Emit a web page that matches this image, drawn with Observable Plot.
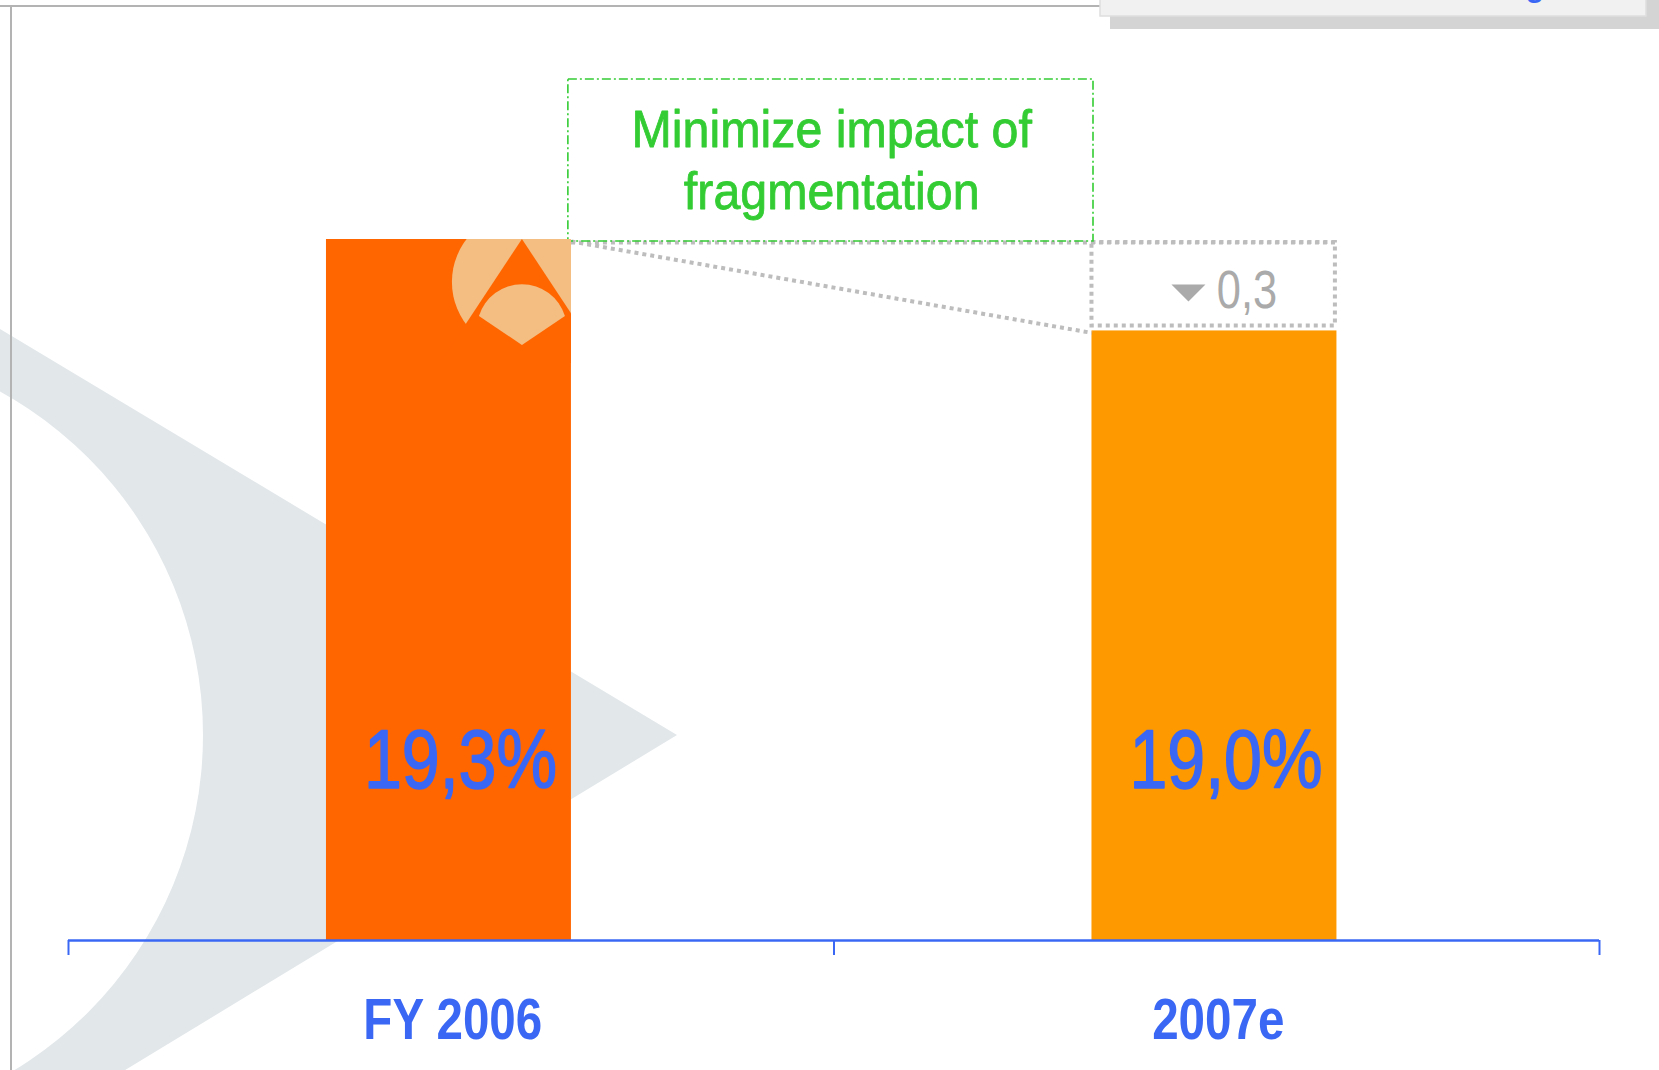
<!DOCTYPE html>
<html>
<head>
<meta charset="utf-8">
<script src="https://cdn.jsdelivr.net/npm/d3@7"></script>
<script src="https://cdn.jsdelivr.net/npm/@observablehq/plot@0.6"></script>
<style>
  html, body { margin: 0; padding: 0; background: #ffffff; overflow: hidden; }
  #chart { position: relative; width: 1659px; height: 1070px; }
</style>
</head>
<body>
<div id="chart"></div>
<script>
// ---- data ----
const categories = ["FY 2006", "2007e"];
const shares = [19.3, 19.0];
const valueLabels = ["19,3%", "19,0%"];
const barColors = ["#ff6600", "#ff9900"];
const noteLines = ["Minimize impact of", "fragmentation"];
const changeLabel = "0,3";
const axisBase = 17;          // value axis starts here (bars are truncated)
const noteTop = 19.825;       // top of the green note box, in value units

const FONT = "'Liberation Sans', Arial, sans-serif";
const BLUE = "#3a68f4";
const GREEN = "#33cc33";
const GREY = "#bdbdbd";

const data = categories.map((c, i) => ({cat: c, i, value: shares[i], label: valueLabels[i], color: barColors[i]}));

const barL = 0.337, barR = 0.657;   // bar extent inside each category slot

const downTriangle = {
  draw(ctx, size) {
    const r = Math.sqrt(size / Math.PI);
    ctx.moveTo(-r, -r / 2);
    ctx.lineTo(r, -r / 2);
    ctx.lineTo(0, r / 2);
    ctx.closePath();
  }
};

const W = 1659, H = 1070;
const plot = Plot.plot({
  width: W, height: H,
  marginLeft: 68, marginRight: 60, marginTop: 0, marginBottom: 130,
  x: {type: "linear", domain: [0, categories.length], axis: null},
  y: {domain: [axisBase, shares[0]], range: [940, 239], axis: null},
  color: {type: "identity"},
  style: {background: "transparent", fontFamily: FONT, overflow: "visible"},
  marks: [
    // bars
    Plot.rectY(data, {x1: d => d.i + barL, x2: d => d.i + barR, y1: axisBase, y2: "value", fill: "color"}),
    // axis line + ticks at slot boundaries
    Plot.ruleY([axisBase], {stroke: BLUE, strokeWidth: 2.5}),
    Plot.axisX({ticks: d3.range(categories.length + 1), tickSize: 15, tickFormat: () => "", stroke: BLUE, strokeWidth: 2, anchor: "bottom"}),
    // category labels
    Plot.text(data, {x: d => d.i + 0.502, y: axisBase, dy: 98, text: "cat", lineAnchor: "bottom",
      fontSize: 58, fontWeight: "bold", fill: BLUE}),
    // value labels inside bars
    Plot.text(data, {x: d => d.i + 0.512, y: 17.5, text: "label", lineAnchor: "bottom",
      fontSize: 83, fill: BLUE, stroke: BLUE, strokeWidth: 1.6}),
    // grey dotted change connector
    Plot.ruleY([shares[0]], {x1: barR, x2: 1 + barR - 0.002, dy: 3, stroke: GREY, strokeWidth: 4, strokeDasharray: "4,4"}),
    Plot.link([{x1: barR, y1: shares[0], x2: 1 + barL, y2: shares[1]}], {x1: "x1", y1: "y1", x2: "x2", y2: "y2",
      dy: 2, stroke: GREY, strokeWidth: 4, strokeDasharray: "4,4"}),
    Plot.rect([{x1: 1 + barL, x2: 1 + barR - 0.002, y1: shares[1], y2: shares[0]}], {x1: "x1", x2: "x2", y1: "y1", y2: "y2",
      insetTop: 3, insetBottom: 5, fill: "none", stroke: GREY, strokeWidth: 4, strokeDasharray: "4,4"}),
    Plot.dot([changeLabel], {x: 1.463, y: shares[1], dy: -38, symbol: downTriangle, r: 17, fill: "#aaaaaa", stroke: "none"}),
    Plot.text([changeLabel], {x: 1.5, y: shares[1], dy: -23, text: d => d, textAnchor: "start", lineAnchor: "bottom",
      fontSize: 53, fill: "#aaaaaa"}),
    // green note box
    Plot.rect([{x1: barR - 0.004, x2: 1 + barL + 0.002, y1: shares[0], y2: noteTop}], {x1: "x1", x2: "x2", y1: "y1", y2: "y2",
      insetBottom: -2, fill: "none", stroke: GREEN, strokeWidth: 1.6, strokeDasharray: "9,3,2,3"}),
    Plot.text([noteLines[0]], {x: 0.997, y: shares[0], dy: -93, text: d => d, lineAnchor: "bottom", fontSize: 52,
      fill: GREEN, stroke: GREEN, strokeWidth: 0.8}),
    Plot.text([noteLines[1]], {x: 0.997, y: shares[0], dy: -31, text: d => d, lineAnchor: "bottom", fontSize: 52,
      fill: GREEN, stroke: GREEN, strokeWidth: 0.8})
  ]
});

// ---- decorations (background watermark, frame, tab, logo) ----
const NS = "http://www.w3.org/2000/svg";
const svg = plot;
function el(tag, attrs, parent) {
  const e = document.createElementNS(NS, tag);
  for (const k in attrs) e.setAttribute(k, attrs[k]);
  (parent || svg).appendChild(e);
  return e;
}
const bg = document.createElementNS(NS, "g");
svg.insertBefore(bg, svg.firstChild);
// watermark: triangle with a circular bite
el("path", {d: "M0,329 L677,735 L0,1146 Z M203,735 A392,392 0 1,0 -581,735 A392,392 0 1,0 203,735 Z",
  fill: "#e2e7ea", "fill-rule": "evenodd"}, bg);
// frame lines
el("line", {x1: 0, y1: 6, x2: W, y2: 6, stroke: "#b3b3b3", "stroke-width": 2}, bg);
el("line", {x1: 11, y1: 6, x2: 11, y2: H, stroke: "#b3b3b3", "stroke-width": 2}, bg);
// top-right tab
el("rect", {x: 1110, y: -2, width: 549, height: 31, fill: "#d4d4d4"}, bg);
el("rect", {x: 1100, y: -2, width: 546, height: 18, fill: "#f1f1f1", stroke: "#dedede", "stroke-width": 1.5}, bg);
const g = el("text", {x: 1535, y: -3, "text-anchor": "middle", fill: BLUE, "font-size": 30, "font-weight": "bold", "font-family": FONT}, bg);
g.textContent = "g";

// logo on the first bar
const xs = plot.scale("x").apply, ys = plot.scale("y").apply;
const bx0 = xs(barL), bx1 = xs(barR), byTop = ys(shares[0]), byBot = ys(axisBase);
const defs = el("defs", {});
const cp = el("clipPath", {id: "barclip"}, defs);
el("rect", {x: bx0, y: byTop, width: bx1 - bx0, height: byBot - byTop}, cp);
const logo = el("g", {"clip-path": "url(#barclip)"});
const cx = bx1 - 49, cy = byTop + 43;
el("circle", {cx, cy, r: 70, fill: "#f4be83"}, logo);
el("path", {d: `M${cx},${byTop} L${cx - 82},${byTop + 124} L${cx + 82},${byTop + 124} Z`, fill: barColors[0]}, logo);
el("path", {d: `M${cx - 43},${cy + 34} A45,45 0 0,1 ${cx + 43},${cy + 34} L${cx},${cy + 63} Z`, fill: "#f4be83"}, logo);

document.getElementById("chart").appendChild(plot);

// condensed look: compress the glyphs of each text mark horizontally
const squeeze = [0.82, 0.82, 0.82, 0.93, 0.93];
const textGroups = svg.querySelectorAll('g[aria-label="text"]');
textGroups.forEach((grp, k) => {
  const f = squeeze[k] ?? 0.85;
  grp.querySelectorAll("text").forEach(t => {
    const w = t.getComputedTextLength();
    t.setAttribute("textLength", (w * f).toFixed(1));
    t.setAttribute("lengthAdjust", "spacingAndGlyphs");
  });
});
</script>
</body>
</html>
